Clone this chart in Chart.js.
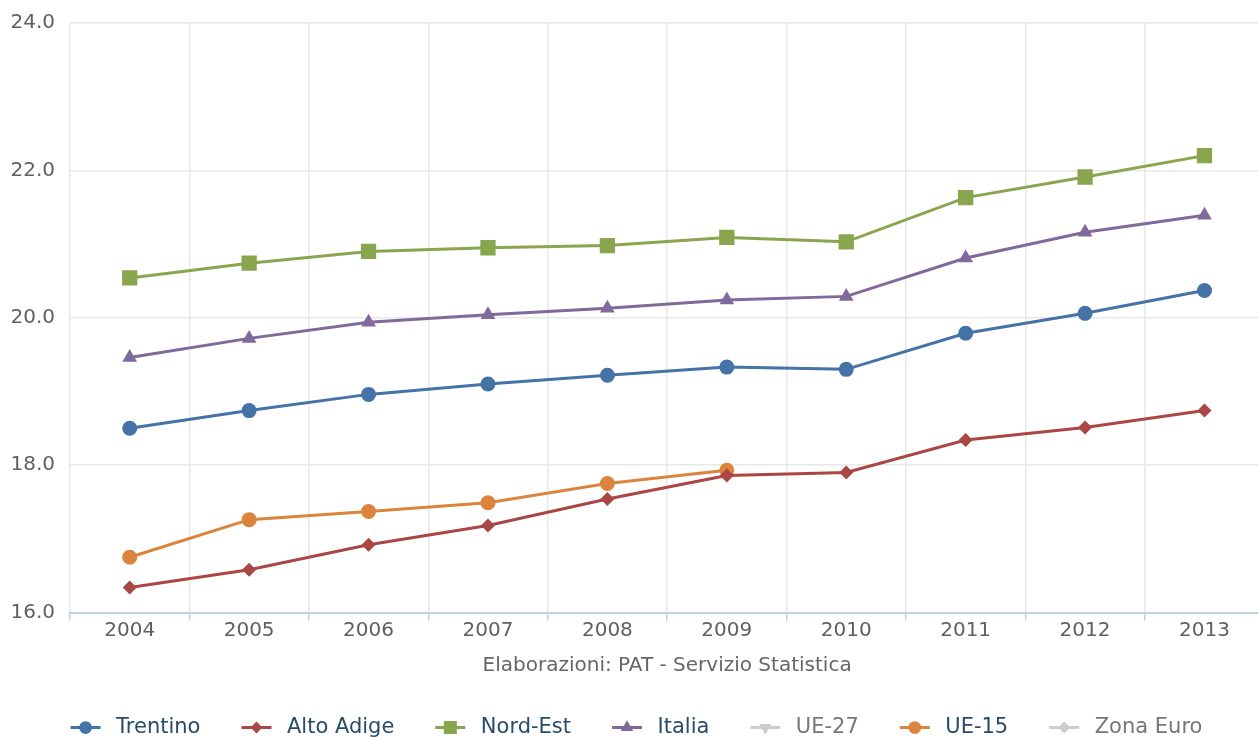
<!DOCTYPE html>
<html>
<head>
<meta charset="utf-8">
<script src="https://cdn.jsdelivr.net/npm/chart.js@4"></script>
<style>
  html, body { margin: 0; padding: 0; background: #fff; overflow: hidden; }
  #wrap { width: 1258px; height: 740px; overflow: hidden; }
</style>
</head>
<body>
<div id="wrap"><canvas id="myChart" width="1275" height="740"></canvas></div>
<script>
    var years = ['2004', '2005', '2006', '2007', '2008', '2009', '2010', '2011', '2012', '2013'];
    var trentino = [18.50, 18.74, 18.96, 19.10, 19.22, 19.33, 19.30, 19.79, 20.06, 20.37];
    var altoAdige = [16.34, 16.58, 16.92, 17.18, 17.54, 17.86, 17.90, 18.34, 18.51, 18.74];
    var nordEst = [20.54, 20.74, 20.90, 20.95, 20.98, 21.09, 21.03, 21.63, 21.91, 22.20];
    var italia = [19.46, 19.72, 19.94, 20.04, 20.13, 20.24, 20.29, 20.81, 21.16, 21.39];
    var ue27 = [];
    var ue15 = [16.75, 17.26, 17.37, 17.49, 17.75, 17.93, null, null, null, null];
    var zonaEuro = [];
    var yTicks = [16, 18, 20, 22, 24];
    var sourceText = 'Elaborazioni: PAT - Servizio Statistica';

    var font = 'DejaVu Sans';
    var hiddenGrey = '#cccccc';

    function series(label, data, color, style, radius, rotation, hidden) {
        return {
            label: label,
            data: data,
            borderColor: color,
            backgroundColor: color,
            borderWidth: 3,
            pointStyle: style,
            pointRadius: radius,
            pointRotation: rotation,
            pointBorderWidth: 0,
            pointHoverRadius: radius,
            tension: 0,
            hidden: hidden,
            greyed: hidden
        };
    }

    // draws the line + marker symbol in front of each legend entry
    const legendSymbols = {
        id: 'legendSymbols',
        beforeLayout(chart) {
            const legend = chart.legend;
            if (legend && !legend._patched) {
                const fit = legend.fit;
                legend.fit = function () {
                    fit.call(this);
                    this.height = 64;
                };
                legend._patched = true;
            }
        },
        afterDraw(chart) {
            const legend = chart.legend;
            const ctx = chart.ctx;
            legend.legendItems.forEach((item, i) => {
                const box = legend.legendHitBoxes[i];
                const ds = chart.data.datasets[item.datasetIndex];
                const color = ds.greyed ? hiddenGrey : ds.borderColor;
                const y = box.top + box.height / 2;
                ctx.save();
                ctx.strokeStyle = color;
                ctx.fillStyle = color;
                ctx.lineWidth = 3;
                ctx.beginPath();
                ctx.moveTo(box.left, y);
                ctx.lineTo(box.left + 30, y);
                ctx.stroke();
                Chart.helpers.drawPoint(ctx, {
                    pointStyle: ds.pointStyle,
                    rotation: ds.pointRotation,
                    radius: ds.pointRadius * 0.85,
                    borderWidth: 0
                }, box.left + 15, y);
                ctx.restore();
            });
        }
    };

    const ctx = document.getElementById('myChart').getContext('2d');
    const myChart = new Chart(ctx, {
        type: 'line',
        data: {
            labels: years,
            datasets: [
                series('Trentino', trentino, '#4572A7', 'circle', 7.5, 0, false),
                series('Alto Adige', altoAdige, '#AA4643', 'rectRot', 7, 0, false),
                series('Nord-Est', nordEst, '#89A54E', 'rect', 10.8, 0, false),
                series('Italia', italia, '#80699B', 'triangle', 8.5, 0, false),
                series('UE-27', ue27, '#3D96AE', 'triangle', 8.5, 180, true),
                series('UE-15', ue15, '#DB843D', 'circle', 7.5, 0, false),
                series('Zona Euro', zonaEuro, '#92A8CD', 'rectRot', 7, 0, true)
            ]
        },
        options: {
            responsive: false,
            animation: false,
            layout: { padding: { top: 20, left: 0, right: 2, bottom: 0 } },
            scales: {
                x: {
                    offset: true,
                    grid: {
                        offset: true,
                        color: '#e8e8e8',
                        lineWidth: 1.5,
                        tickColor: '#C0D0E0',
                        tickLength: 8,
                        drawTicks: true
                    },
                    border: { color: '#C0D0E0', width: 2 },
                    ticks: {
                        color: '#606060',
                        padding: 0,
                        maxRotation: 0,
                        font: { family: font, size: 20, lineHeight: 1 }
                    },
                    title: {
                        display: true,
                        text: sourceText,
                        color: '#666666',
                        padding: { top: 15.5, bottom: 0 },
                        font: { family: font, size: 20, lineHeight: 1 }
                    }
                },
                y: {
                    min: yTicks[0],
                    max: yTicks[yTicks.length - 1],
                    afterBuildTicks: function (scale) {
                        scale.ticks = yTicks.map(v => ({ value: v }));
                    },
                    afterFit: function (scale) {
                        scale.width = 70;
                    },
                    grid: { color: '#e8e8e8', lineWidth: 1.5, drawTicks: false },
                    border: { display: false },
                    ticks: {
                        color: '#606060',
                        padding: 15,
                        font: { family: font, size: 20, lineHeight: 0.8 },
                        callback: v => Number(v).toFixed(1)
                    }
                }
            },
            plugins: {
                tooltip: { enabled: false },
                legend: {
                    position: 'bottom',
                    labels: {
                        boxWidth: 35,
                        padding: 41,
                        font: { family: font, size: 21 },
                        generateLabels: function (chart) {
                            return chart.data.datasets.map((ds, i) => ({
                                text: ds.label,
                                datasetIndex: i,
                                fillStyle: 'rgba(0,0,0,0)',
                                strokeStyle: 'rgba(0,0,0,0)',
                                lineWidth: 0,
                                hidden: false,
                                fontColor: ds.greyed ? '#777777' : '#274b6d'
                            }));
                        }
                    }
                }
            }
        },
        plugins: [legendSymbols]
    });
</script>
</body>
</html>
